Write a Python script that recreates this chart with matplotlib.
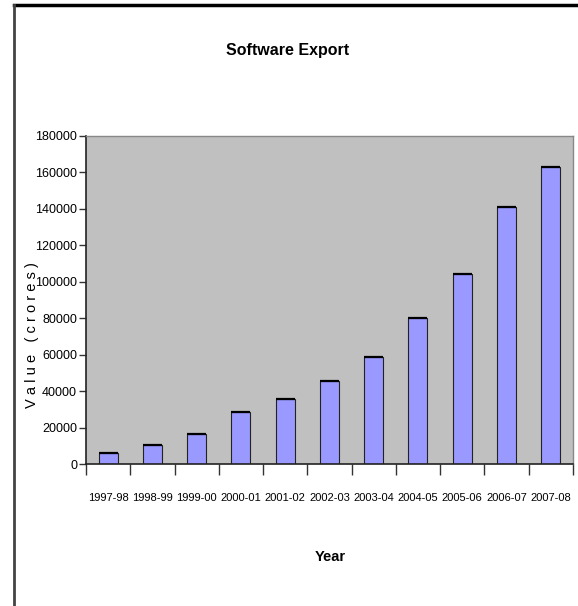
import numpy as np
import matplotlib.pyplot as plt
from matplotlib.lines import Line2D

years = ["1997-98", "1998-99", "1999-00", "2000-01", "2001-02", "2002-03",
         "2003-04", "2004-05", "2005-06", "2006-07", "2007-08"]
export_value = [6000, 10400, 16500, 28500, 35700, 45500, 58500, 80000, 104000, 141000, 163000]
yticks = [0, 20000, 40000, 60000, 80000, 100000, 120000, 140000, 160000, 180000]

plt.rcParams['font.family'] = ['Liberation Sans', 'DejaVu Sans']

fig = plt.figure(figsize=(5.78, 6.06), dpi=100)
ax = fig.add_axes([0.149, 0.234, 0.842, 0.542])
ax.set_facecolor("#c0c0c0")

x = np.arange(len(years))
ax.bar(x, export_value, width=0.43, color="#9999ff", edgecolor="#222222", linewidth=0.8, zorder=2)
# darker top edge like the original
ax.hlines(export_value, x - 0.215, x + 0.215, colors="black", linewidth=1.6, zorder=3)

ax.set_xlim(-0.5, len(years) - 0.5)
ax.set_ylim(0, 180000)
ax.set_yticks(yticks)
ax.set_yticklabels([str(v) for v in yticks], fontsize=9)
ax.set_xticks(x)
ax.set_xticklabels(years, fontsize=8)
ax.set_xticks(np.arange(-0.5, len(years)), minor=True)
ax.tick_params(axis='x', which='major', length=0, pad=21)
ax.tick_params(axis='x', which='minor', length=8, width=1, color="#333333")
ax.tick_params(axis='y', length=5, width=1, color="#333333", pad=1.5)

for s in ["top", "right"]:
    ax.spines[s].set_color("#888888")
    ax.spines[s].set_linewidth(1)
for s in ["left", "bottom"]:
    ax.spines[s].set_color("#222222")
    ax.spines[s].set_linewidth(1.2)

fig.text(0.497, 0.917, "Software Export", ha="center", va="center", fontsize=11.5, fontweight="bold")
fig.text(0.571, 0.081, "Year", ha="center", va="center", fontsize=10.5, fontweight="bold")
fig.text(0.055, 0.447, "V a l u e   ( c r o r e s )", rotation=90, ha="center", va="center", fontsize=10.5)

# figure border (top and left only visible)
fig.add_artist(Line2D([0.024, 1.0], [0.992, 0.992], color="black", linewidth=2.5, transform=fig.transFigure))
fig.add_artist(Line2D([0.024, 0.024], [0.0, 0.992], color="#444444", linewidth=2, transform=fig.transFigure))

fig.savefig("out.png", dpi=100)
